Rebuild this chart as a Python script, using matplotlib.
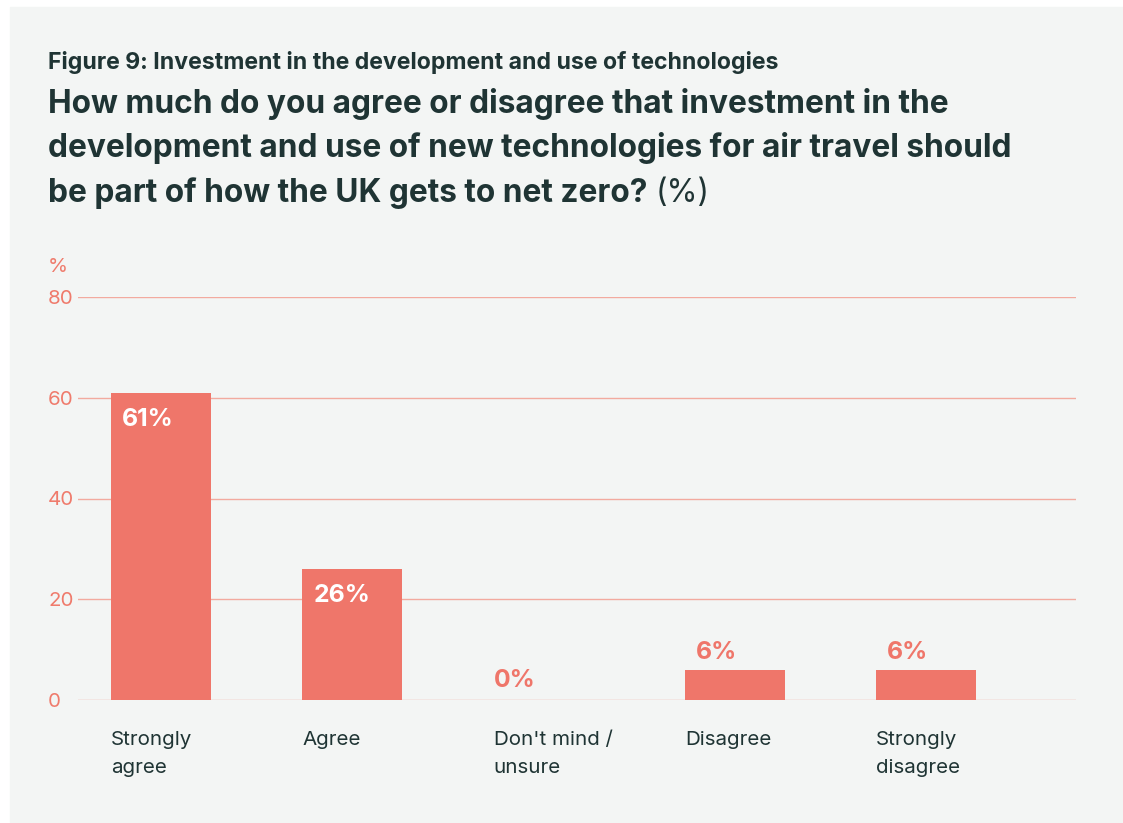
import matplotlib.pyplot as plt
from matplotlib.patches import Rectangle

# data
categories = ["Strongly\nagree", "Agree", "Don't mind /\nunsure", "Disagree", "Strongly\ndisagree"]
values = [61, 26, 0, 6, 6]
labels = ["61%", "26%", "0%", "6%", "6%"]
y_ticks = [0, 20, 40, 60, 80]

bar_col = '#ef766a'
grid_col = '#f2aa9f'
dark = '#1f3434'
bg = '#f3f5f4'

plt.rcParams['font.family'] = ['Inter', 'DejaVu Sans']

fig = plt.figure(figsize=(11.23, 8.23), dpi=100)
W, H = 1123, 823
fig.patches.append(Rectangle((10 / W, 1 - 822 / H), 1113 / W, 815 / H,
                             transform=fig.transFigure, color=bg, zorder=-10))

# axes placed in pixel coords: x 78..1076, y 297..700
ax = fig.add_axes([78 / W, 1 - 700 / H, 998 / W, 403 / H])
ax.set_facecolor('none')
x = list(range(len(categories)))
bw = 0.522
ax.bar(x, values, width=bw, color=bar_col, zorder=3)
ax.set_xlim(-0.433, 4.783)
ax.set_ylim(0, 80)
ax.set_yticks(y_ticks)
for t in y_ticks:
    ax.axhline(t, color=grid_col, lw=1, zorder=1)
for s in ax.spines.values():
    s.set_visible(False)
ax.tick_params(axis='y', length=0, pad=0, labelsize=14.8, labelcolor='#ef7b6c')
ax.tick_params(axis='x', length=0, pad=22)
ax.set_xticks([i - bw / 2 for i in x])
ax.set_xticklabels(categories, ha='left', va='top', fontsize=14.8, color=dark,
                   linespacing=1.75)
for lab in ax.get_yticklabels():
    lab.set_horizontalalignment('left')
    lab.set_x(-30 / 998)
ax.text(48 / W, 1 - 267 / H, '%', transform=fig.transFigure, fontsize=14.8,
        color='#ef7b6c', va='center', ha='left')

# value labels
for i, v in enumerate(values):
    dx = 8 if v > 0 else 0
    lx = i - bw / 2
    if v > 15:
        ax.annotate(labels[i], (lx, v), xytext=(dx, -11), textcoords='offset points',
                    ha='left', va='top', color='white', fontsize=17.8, fontweight='bold',
                    zorder=4)
    else:
        dy = 4 if v > 0 else 6
        ax.annotate(labels[i], (lx, v), xytext=(dx, dy), textcoords='offset points',
                    ha='left', va='bottom', color=bar_col, fontsize=17.8,
                    fontweight='bold', zorder=4)

# titles
fig.text(48 / W, 1 - 62 / H, 'Figure 9: Investment in the development and use of technologies',
         fontsize=16.6, fontweight='bold', color=dark, va='center', ha='left')
lines = ["How much do you agree or disagree that investment in the",
         "development and use of new technologies for air travel should",
         "be part of how the UK gets to net zero?"]
ys = [104, 148, 193]
fig.canvas.draw()
r = fig.canvas.get_renderer()
for ln, yy in zip(lines, ys):
    t = fig.text(48 / W, 1 - yy / H, ln, fontsize=22.8, fontweight='bold', color=dark,
                 va='center', ha='left')
last = t.get_window_extent(renderer=r)
fig.text(last.x1 / W + 8 / W, 1 - 193 / H, '(%)', fontsize=22.8, color=dark,
         va='center', ha='left')

fig.savefig('out.png', dpi=100, facecolor='white')
